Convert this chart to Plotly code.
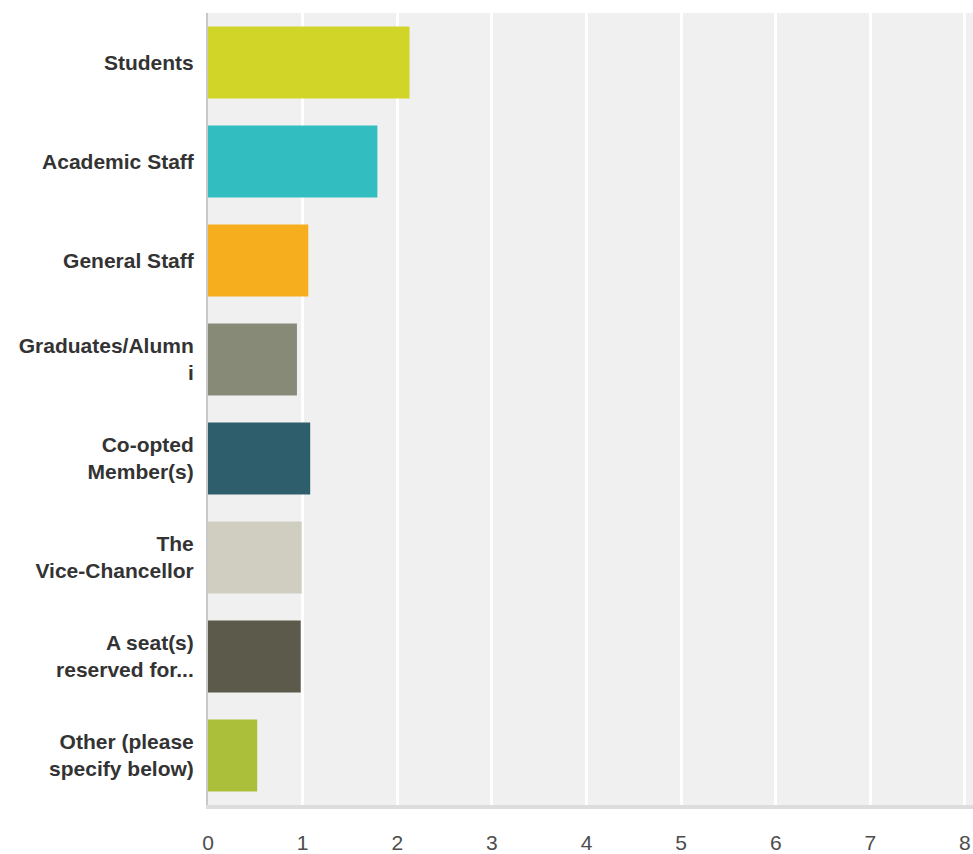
import plotly.graph_objects as go

categories = ["Students", "Academic Staff", "General Staff", "Graduates/Alumn<br>i",
              "Co-opted<br>Member(s)", "The<br>Vice-Chancellor", "A seat(s)<br>reserved for...",
              "Other (please<br>specify below)"]
values = [2.13, 1.79, 1.06, 0.94, 1.08, 0.99, 0.98, 0.52]
colors = ["#D0D528", "#32BDC0", "#F7AE1E", "#888A78", "#2E5E6B", "#CFCEC1", "#5C5B4B", "#ABBF3A"]
x_ticks = [0, 1, 2, 3, 4, 5, 6, 7, 8]

fig = go.Figure(go.Bar(
    x=values, y=[f"<b>{c}</b>" for c in categories], orientation="h",
    marker=dict(color=colors, line=dict(width=0)), width=0.725,
))

fig.update_layout(
    width=973, height=854,
    margin=dict(l=208, r=0, t=13, b=45),
    paper_bgcolor="white", plot_bgcolor="#F0F0F0",
    showlegend=False,
    font=dict(family="Liberation Sans, Arial, sans-serif"),
)
fig.update_xaxes(
    range=[0, 8.085], tickvals=x_ticks, ticktext=[str(t) for t in x_ticks],
    showgrid=True, gridcolor="white", gridwidth=2.5, zeroline=False,
    showline=True, linecolor="#DDDDDD", linewidth=4,
    tickfont=dict(size=21, color="#4D4D4D"), ticklabelstandoff=16, ticks="",
)
fig.update_yaxes(
    autorange="reversed", showgrid=False, zeroline=False,
    showline=True, linecolor="#C8C8C8", linewidth=2,
    tickfont=dict(size=21, color="#333333"), ticklabelstandoff=8, ticks="",
)

fig.write_html("out.html", config={"displayModeBar": False},
               post_script="document.body.style.margin='0';document.body.style.overflow='hidden';")
